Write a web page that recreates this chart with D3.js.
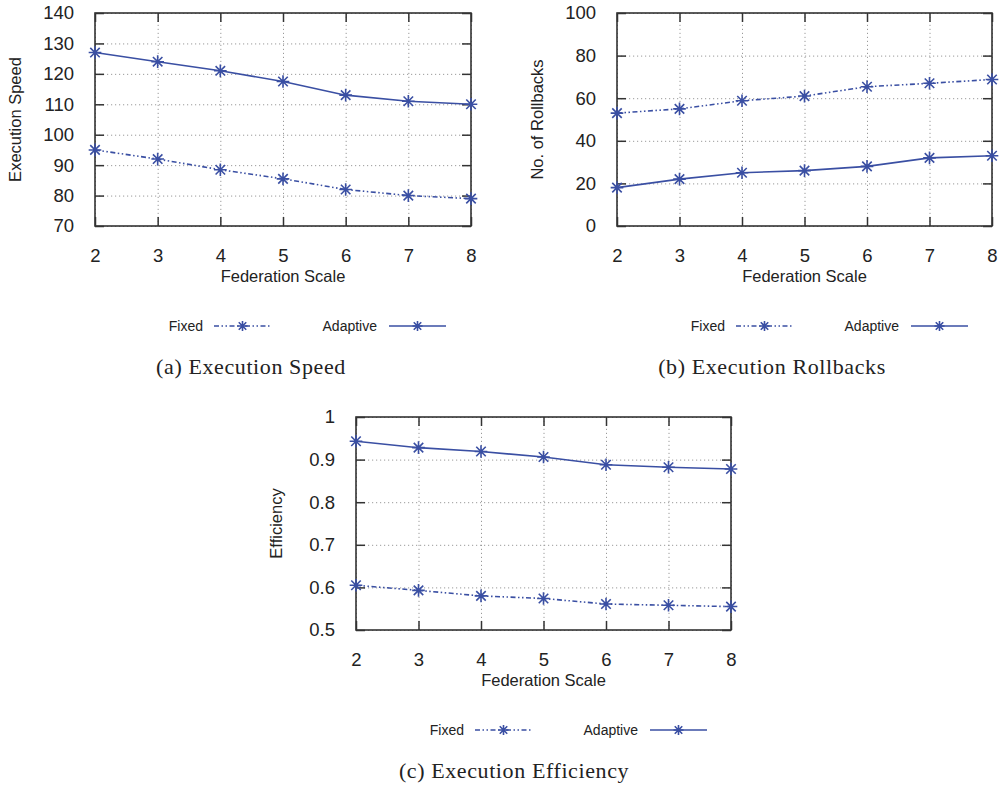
<!DOCTYPE html>
<html>
<head>
<meta charset="utf-8">
<script src="https://cdn.jsdelivr.net/npm/d3@7"></script>
<style>
  body { margin: 0; background: #fff; }
  svg { display: block; }
</style>
</head>
<body>
<div id="chart"></div>
<script>
// federation scale on the x axis
const scales = [2, 3, 4, 5, 6, 7, 8];

// (a) execution speed
const speedFixed = [95, 92, 88.5, 85.5, 82, 80, 79];
const speedAdaptive = [127, 124, 121, 117.5, 113, 111, 110];
const speedTicks = [70, 80, 90, 100, 110, 120, 130, 140];

// (b) rollbacks
const rollFixed = [53, 55, 58.8, 61, 65.4, 67, 68.8];
const rollAdaptive = [18, 22, 25, 26, 28, 32, 33];
const rollTicks = [0, 20, 40, 60, 80, 100];

// (c) efficiency
const effFixed = [0.605, 0.593, 0.58, 0.574, 0.561, 0.558, 0.555];
const effAdaptive = [0.943, 0.928, 0.919, 0.906, 0.888, 0.882, 0.878];
const effTicks = [0.5, 0.6, 0.7, 0.8, 0.9, 1];

const seriesNames = ["Fixed", "Adaptive"];

const blue = "#3a4fa3";
const fixedDash = "5,2.5,1.5,2.5,1.5,2.5";
const sans = "'Liberation Sans', Arial, sans-serif";

const svg = d3.select("#chart")
    .append("svg")
    .attr("width", 1007)
    .attr("height", 786);

// gnuplot style star: plus and cross on top of each other
const starSymbol = {
    draw(ctx, size) {
        const r = Math.sqrt(size) / 2;
        const d = r * 0.75;
        ctx.moveTo(-r, 0); ctx.lineTo(r, 0);
        ctx.moveTo(0, -r); ctx.lineTo(0, r);
        ctx.moveTo(-d, -d); ctx.lineTo(d, d);
        ctx.moveTo(-d, d); ctx.lineTo(d, -d);
    }
};
const star = d3.symbol().type(starSymbol).size(160);

function drawPanel(p) {
    let x = d3.scaleLinear()
        .domain([2, 8])
        .range([p.left, p.right]);
    let y = d3.scaleLinear()
        .domain(d3.extent(p.ticks))
        .range([p.bottom, p.top]);
    let w = p.right - p.left, h = p.bottom - p.top;
    let g = svg.append("g");

    // dotted grid
    g.append("g")
        .attr("transform", `translate(0, ${p.bottom})`)
        .call(d3.axisBottom(x).tickValues(scales).tickSize(-h).tickFormat(""))
        .call(a => a.select(".domain").remove())
        .selectAll("line")
        .attr("stroke", "#9a9a9a")
        .attr("stroke-dasharray", "1.2,2.8");
    g.append("g")
        .attr("transform", `translate(${p.left}, 0)`)
        .call(d3.axisLeft(y).tickValues(p.ticks).tickSize(-w).tickFormat(""))
        .call(a => a.select(".domain").remove())
        .selectAll("line")
        .attr("stroke", "#9a9a9a")
        .attr("stroke-dasharray", "1.2,2.8");

    // inward ticks on all four sides
    let tl = 9;
    let bottomAxis = g.append("g")
        .attr("transform", `translate(0, ${p.bottom})`)
        .call(d3.axisBottom(x).tickValues(scales).tickSize(-tl).tickPadding(14 + tl)
            .tickFormat(d3.format("d")));
    g.append("g")
        .attr("transform", `translate(0, ${p.top})`)
        .call(d3.axisTop(x).tickValues(scales).tickSize(-tl).tickFormat(""));
    let leftAxis = g.append("g")
        .attr("transform", `translate(${p.left}, 0)`)
        .call(d3.axisLeft(y).tickValues(p.ticks).tickSize(-tl).tickPadding(12 + tl)
            .tickFormat(d3.format("~g")));
    g.append("g")
        .attr("transform", `translate(${p.right}, 0)`)
        .call(d3.axisRight(y).tickValues(p.ticks).tickSize(-tl).tickFormat(""));

    g.selectAll(".domain").remove();
    g.selectAll(".tick line").filter(function () {
        return d3.select(this).attr("stroke-dasharray") == null;
    }).attr("stroke", "#333").attr("stroke-width", 1.5);

    bottomAxis.selectAll("text")
        .attr("font-family", sans)
        .attr("font-size", "18.5px")
        .attr("fill", "#222");
    leftAxis.selectAll("text")
        .attr("font-family", sans)
        .attr("font-size", "18.5px")
        .attr("fill", "#222");

    // frame
    g.append("rect")
        .attr("x", p.left)
        .attr("y", p.top)
        .attr("width", w)
        .attr("height", h)
        .attr("fill", "none")
        .attr("stroke", "#333")
        .attr("stroke-width", 1.6);

    // lines and stars
    let line = d3.line()
        .x((d, i) => x(scales[i]))
        .y(d => y(d));
    let series = [
        {name: "Fixed", values: p.fixed, dash: fixedDash},
        {name: "Adaptive", values: p.adaptive, dash: null}
    ];
    series.forEach(s => {
        g.append("path")
            .attr("d", line(s.values))
            .attr("fill", "none")
            .attr("stroke", blue)
            .attr("stroke-width", 1.6)
            .attr("stroke-dasharray", s.dash);
        g.selectAll(null)
            .data(s.values)
            .enter()
            .append("path")
            .attr("transform", (d, i) => `translate(${x(scales[i])}, ${y(d)})`)
            .attr("d", star)
            .attr("fill", "none")
            .attr("stroke", blue)
            .attr("stroke-width", 1.6);
    });

    // axis titles
    g.append("text")
        .attr("x", (p.left + p.right) / 2)
        .attr("y", p.bottom + 56)
        .attr("text-anchor", "middle")
        .attr("font-family", sans)
        .attr("font-size", "16.5px")
        .attr("fill", "#222")
        .text("Federation Scale");
    g.append("text")
        .attr("transform", `translate(${p.left - 74}, ${(p.top + p.bottom) / 2}) rotate(-90)`)
        .attr("text-anchor", "middle")
        .attr("font-family", sans)
        .attr("font-size", "16.5px")
        .attr("fill", "#222")
        .text(p.ylabel);

    // legend
    let ly = p.bottom + 100;
    let legendItems = [
        {name: seriesNames[0], end: 108, x0: 119, x1: 176, dash: fixedDash},
        {name: seriesNames[1], end: 282, x0: 294, x1: 351, dash: null}
    ];
    legendItems.forEach(l => {
        g.append("text")
            .attr("x", p.left + l.end)
            .attr("y", ly + 5)
            .attr("text-anchor", "end")
            .attr("font-family", sans)
            .attr("font-size", "14px")
            .attr("fill", "#222")
            .text(l.name);
        g.append("line")
            .attr("x1", p.left + l.x0)
            .attr("x2", p.left + l.x1)
            .attr("y1", ly)
            .attr("y2", ly)
            .attr("stroke", blue)
            .attr("stroke-width", 1.6)
            .attr("stroke-dasharray", l.dash);
        g.append("path")
            .attr("transform", `translate(${p.left + (l.x0 + l.x1) / 2}, ${ly})`)
            .attr("d", d3.symbol().type(starSymbol).size(100)())
            .attr("fill", "none")
            .attr("stroke", blue)
            .attr("stroke-width", 1.6);
    });

    // caption
    svg.append("text")
        .attr("x", p.captionX)
        .attr("y", p.bottom + 148)
        .attr("text-anchor", "middle")
        .attr("font-family", "'Liberation Serif', 'Times New Roman', serif")
        .attr("font-size", "22px")
        .attr("letter-spacing", "0.6px")
        .attr("fill", "#222")
        .text(p.caption);
}

drawPanel({left: 95, right: 471, top: 13, bottom: 226, ticks: speedTicks,
    fixed: speedFixed, adaptive: speedAdaptive, ylabel: "Execution Speed",
    caption: "(a) Execution Speed", captionX: 251});
drawPanel({left: 617, right: 992, top: 13, bottom: 226, ticks: rollTicks,
    fixed: rollFixed, adaptive: rollAdaptive, ylabel: "No. of Rollbacks",
    caption: "(b) Execution Rollbacks", captionX: 772});
drawPanel({left: 356, right: 731, top: 417, bottom: 630, ticks: effTicks,
    fixed: effFixed, adaptive: effAdaptive, ylabel: "Efficiency",
    caption: "(c) Execution Efficiency", captionX: 514});
</script>
</body>
</html>
